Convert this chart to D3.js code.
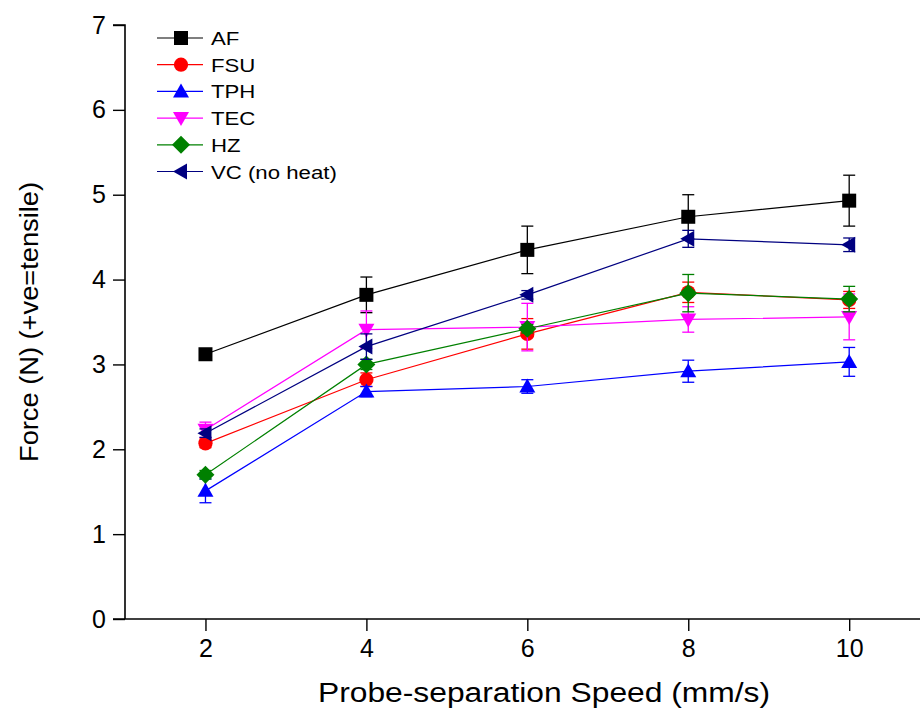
<!DOCTYPE html>
<html>
<head>
<meta charset="utf-8">
<script src="https://cdn.jsdelivr.net/npm/d3@7"></script>
<style>
  body { margin: 0; background: #fff; }
  svg { display: block; font-family: "Liberation Sans", Arial, sans-serif; }
</style>
</head>
<body>
<div id="chart"></div>
<script>
// speeds (mm/s) and mean force (N) + error per group
const speeds = [2, 4, 6, 8, 10];

const afForce = [3.12, 3.82, 4.35, 4.74, 4.93];
const afErr = [0.03, 0.21, 0.28, 0.26, 0.30];
const fsuForce = [2.07, 2.82, 3.36, 3.85, 3.76];
const fsuErr = [0.05, 0.08, 0.18, 0.12, 0.10];
const tphForce = [1.51, 2.68, 2.74, 2.92, 3.03];
const tphErr = [0.14, 0.06, 0.08, 0.13, 0.17];
const tecForce = [2.23, 3.41, 3.44, 3.53, 3.56];
const tecErr = [0.09, 0.22, 0.28, 0.15, 0.27];
const hzForce = [1.70, 3.00, 3.42, 3.84, 3.77];
const hzErr = [0.05, 0.06, 0.05, 0.22, 0.15];
const vcForce = [2.19, 3.21, 3.82, 4.48, 4.41];
const vcErr = [0.05, 0.15, 0.05, 0.10, 0.08];

const seriesNames = ["AF", "FSU", "TPH", "TEC", "HZ", "VC (no heat)"];
const seriesColors = ["#000000", "#ff0000", "#0000ff", "#ff00ff", "#008000", "#000080"];
const seriesShapes = ["square", "circle", "up", "down", "diamond", "left"];
const yTicks = [0, 1, 2, 3, 4, 5, 6, 7];

const series = [
  [afForce, afErr], [fsuForce, fsuErr], [tphForce, tphErr],
  [tecForce, tecErr], [hzForce, hzErr], [vcForce, vcErr]
].map((d, i) => ({
  name: seriesNames[i], color: seriesColors[i], shape: seriesShapes[i],
  points: speeds.map((s, j) => ({ x: s, y: d[0][j], e: d[1][j] }))
}));

const width = 920, height = 716;
const svg = d3.select("#chart").append("svg")
  .attr("width", width).attr("height", height);

const x = d3.scaleLinear().domain([1, 10.88]).range([125, 920]);
const y = d3.scaleLinear().domain([0, 7]).range([619, 25]);

// marker paths centred at 0,0
function markerPath(shape) {
  switch (shape) {
    case "square": return "M-7,-7H7V7H-7Z";
    case "circle": return d3.symbol(d3.symbolCircle, 160)();
    case "up": return "M0,-8L8,6H-8Z";
    case "down": return "M0,8L8,-6H-8Z";
    case "diamond": return "M0,-9L9,0L0,9L-9,0Z";
    case "left": return "M-8,0L6,-8V8Z";
  }
}

// axes
const xAxis = svg.append("g")
  .attr("transform", `translate(0,${y(0)})`)
  .call(d3.axisBottom(x).tickValues(speeds).tickFormat(d3.format("d")).tickSize(12).tickPadding(8));
const yAxis = svg.append("g")
  .attr("transform", `translate(${x(1)},0)`)
  .call(d3.axisLeft(y).tickValues(yTicks).tickFormat(d3.format("d")).tickSize(12).tickPadding(7));

[xAxis, yAxis].forEach(g => {
  g.select(".domain").attr("stroke", "#000").attr("stroke-width", 1.6);
  g.selectAll(".tick line").attr("stroke", "#000").attr("stroke-width", 1.4);
  g.selectAll(".tick text").attr("fill", "#000")
    .style("font-size", "25px").style("font-family", "'Liberation Sans', Arial, sans-serif");
});
// keep the left axis from running past the top tick and the bottom axis to the edge
yAxis.select(".domain").attr("d", `M-12,${y(7)}H0V${y(0)}`);
xAxis.select(".domain").attr("d", `M${x(1) - 12},0H${width}`);

svg.append("text")
  .attr("x", 544).attr("y", 702)
  .attr("text-anchor", "middle")
  .attr("textLength", 452).attr("lengthAdjust", "spacingAndGlyphs")
  .style("font-size", "27px")
  .text("Probe-separation Speed (mm/s)");

svg.append("text")
  .attr("transform", `translate(38,${(y(0) + y(7)) / 2}) rotate(-90)`)
  .attr("text-anchor", "middle")
  .attr("textLength", 280).attr("lengthAdjust", "spacingAndGlyphs")
  .style("font-size", "26px")
  .text("Force (N) (+ve=tensile)");

const line = d3.line().x(d => x(d.x)).y(d => y(d.y));

series.forEach(s => {
  const g = svg.append("g");
  // error bars
  const eb = g.selectAll(".eb").data(s.points).join("g")
    .attr("stroke", s.color).attr("stroke-width", 1.3);
  eb.append("line")
    .attr("x1", d => x(d.x)).attr("x2", d => x(d.x))
    .attr("y1", d => y(d.y - d.e)).attr("y2", d => y(d.y + d.e));
  eb.append("line")
    .attr("x1", d => x(d.x) - 6).attr("x2", d => x(d.x) + 6)
    .attr("y1", d => y(d.y + d.e)).attr("y2", d => y(d.y + d.e));
  eb.append("line")
    .attr("x1", d => x(d.x) - 6).attr("x2", d => x(d.x) + 6)
    .attr("y1", d => y(d.y - d.e)).attr("y2", d => y(d.y - d.e));

  g.append("path")
    .attr("d", line(s.points))
    .attr("fill", "none").attr("stroke", s.color).attr("stroke-width", 1.2);

  g.selectAll(".mk").data(s.points).join("path")
    .attr("transform", d => `translate(${x(d.x)},${y(d.y)})`)
    .attr("d", markerPath(s.shape))
    .attr("fill", s.color);
});

// legend
const legend = svg.append("g").attr("transform", "translate(157,38)");
series.forEach((s, i) => {
  const row = legend.append("g").attr("transform", `translate(0,${i * 26.7})`);
  row.append("line").attr("x1", 0).attr("x2", 46)
    .attr("stroke", s.color).attr("stroke-width", 1.2);
  row.append("path").attr("transform", "translate(24,0)")
    .attr("d", markerPath(s.shape)).attr("fill", s.color);
  row.append("text").attr("transform", "translate(54,7) scale(1.2,1)")
    .style("font-size", "18.5px").text(s.name);
});
</script>
</body>
</html>
